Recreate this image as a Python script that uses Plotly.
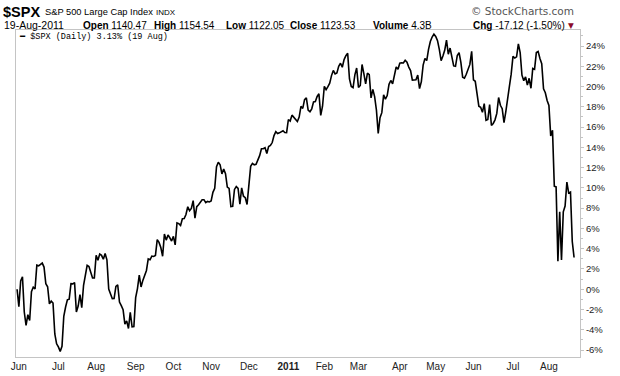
import pandas as pd
import plotly.graph_objects as go

# ---- data ----
base_close = 1089.41  # 28-May-2010 close (0% reference)
holidays = ["2010-05-31", "2010-07-05", "2010-09-06", "2010-11-25", "2010-12-24", "2011-01-17",
            "2011-02-21", "2011-04-22", "2011-05-30", "2011-07-04"]
closes = [
    1089.41,
    # Jun 2010
    1070.71, 1098.38, 1102.83, 1064.88, 1050.47, 1062.00, 1055.69, 1086.84, 1091.60, 1089.63,
    1115.23, 1114.61, 1116.04, 1117.51, 1113.20, 1095.31, 1092.04, 1073.69, 1076.76, 1074.57,
    1041.24, 1030.71,
    # Jul 2010
    1027.37, 1022.58, 1028.06, 1060.27, 1070.25, 1077.96, 1078.75, 1095.34, 1095.17, 1096.48,
    1064.88, 1071.25, 1083.48, 1069.59, 1093.67, 1102.66, 1115.01, 1113.84, 1106.13, 1101.53,
    1101.60,
    # Aug 2010
    1125.86, 1120.46, 1127.24, 1125.81, 1121.64, 1127.79, 1121.06, 1089.47, 1083.61, 1079.25,
    1079.38, 1092.54, 1094.16, 1075.63, 1071.69, 1067.36, 1051.87, 1055.33, 1047.22, 1064.59,
    1048.92, 1049.33,
    # Sep 2010
    1080.29, 1090.10, 1104.51, 1091.84, 1098.87, 1104.18, 1109.55, 1121.90, 1121.10, 1125.07,
    1124.66, 1125.59, 1142.71, 1139.78, 1134.28, 1124.83, 1148.67, 1142.16, 1147.70, 1144.73,
    1141.20,
    # Oct 2010
    1146.24, 1137.03, 1160.75, 1159.97, 1158.06, 1165.15, 1165.32, 1169.77, 1178.10, 1173.81,
    1176.19, 1184.71, 1165.90, 1178.17, 1180.26, 1183.08, 1185.62, 1185.64, 1182.45, 1183.78,
    1183.26,
    # Nov 2010
    1184.38, 1193.57, 1197.96, 1221.06, 1225.85, 1223.25, 1213.40, 1218.71, 1213.54, 1199.21,
    1197.75, 1178.34, 1178.59, 1196.69, 1199.73, 1197.84, 1180.73, 1198.35, 1189.40, 1187.76,
    1180.55,
    # Dec 2010
    1206.07, 1221.53, 1224.71, 1223.12, 1223.75, 1228.28, 1233.00, 1240.40, 1240.46, 1241.59,
    1235.23, 1242.87, 1243.91, 1247.08, 1254.60, 1258.84, 1256.77, 1257.54, 1258.51, 1259.78,
    1257.88, 1257.64,
    # Jan 2011
    1271.87, 1270.20, 1276.56, 1273.85, 1271.50, 1269.75, 1274.48, 1285.96, 1283.76, 1293.24,
    1295.02, 1281.92, 1280.26, 1283.35, 1290.84, 1291.18, 1296.63, 1299.54, 1276.34, 1286.12,
    # Feb 2011
    1307.59, 1304.03, 1307.10, 1310.87, 1319.05, 1324.57, 1320.88, 1321.87, 1329.15, 1332.32,
    1328.01, 1336.32, 1340.43, 1343.01, 1315.44, 1307.40, 1306.10, 1319.88, 1327.22,
    # Mar 2011
    1306.33, 1308.44, 1330.97, 1321.15, 1310.13, 1321.82, 1320.02, 1295.11, 1304.28, 1296.39,
    1281.87, 1256.88, 1273.72, 1279.21, 1298.38, 1293.77, 1297.54, 1309.66, 1313.80, 1310.19,
    1319.44, 1328.26, 1325.83,
    # Apr 2011
    1332.41, 1332.87, 1332.63, 1335.54, 1333.51, 1328.17, 1324.46, 1314.16, 1314.41, 1314.52,
    1319.68, 1305.14, 1312.62, 1330.36, 1337.38, 1335.25, 1347.24, 1355.66, 1360.48, 1363.61,
    # May 2011
    1361.22, 1356.62, 1347.32, 1335.10, 1340.20, 1346.29, 1357.16, 1342.08, 1348.65, 1337.77,
    1329.47, 1328.98, 1340.68, 1343.60, 1333.27, 1317.37, 1316.28, 1320.47, 1325.69, 1331.10,
    1345.20,
    # Jun 2011
    1314.55, 1312.94, 1300.16, 1286.17, 1284.94, 1279.56, 1289.00, 1270.98, 1271.83, 1287.87,
    1265.42, 1267.64, 1271.50, 1278.36, 1295.52, 1287.14, 1283.50, 1268.45, 1280.10, 1296.67,
    1307.41, 1320.64,
    # Jul 2011
    1339.67, 1337.88, 1339.22, 1353.22, 1343.80, 1319.49, 1313.64, 1317.72, 1308.87, 1316.14,
    1305.44, 1326.73, 1325.84, 1343.80, 1345.02, 1337.43, 1331.94, 1304.89, 1300.67, 1292.28,
    # Aug 2011
    1286.94, 1254.05, 1260.34, 1200.07, 1199.38, 1119.46, 1172.53, 1120.76, 1172.64, 1178.81,
    1204.49, 1192.76, 1193.89, 1140.65, 1123.53,
]
month_labels = ["Jun", "Jul", "Aug", "Sep", "Oct", "Nov", "Dec", "<b>2011</b>",
                "Feb", "Mar", "Apr", "May", "Jun", "Jul", "Aug"]
y_ticks = list(range(-6, 25, 2))
quote_items = [("Open", "1140.47"), ("High", "1154.54"), ("Low", "1122.05"),
               ("Close", "1123.53"), ("Volume", "4.3B"), ("Chg", "-17.12 (-1.50%)")]

# ---- derived ----
dates = [d for d in pd.bdate_range("2010-05-28", "2011-08-19") if d.strftime("%Y-%m-%d") not in holidays]
n = min(len(dates), len(closes))
dates, closes = dates[:n], closes[:n]
pct = [(c / base_close - 1) * 100 for c in closes]
idx = list(range(len(closes)))

tick_idx = []
seen = set()
for i, d in enumerate(dates):
    key = (d.year, d.month)
    if i > 0 and key not in seen:
        tick_idx.append(i)
    seen.add(key)

# geometry (pixels)
W, H = 620, 376
L, R, T, B = 16, 40, 30, 19
pw, ph = W - L - R, H - T - B
def px(x):
    return (x - L) / pw
def py(y):
    return (H - B - y) / ph

fig = go.Figure()
fig.add_trace(go.Scatter(x=idx, y=pct, mode="lines",
                         line=dict(color="#000000", width=1.6), hoverinfo="skip",
                         showlegend=False))

font_main = "Liberation Sans, Arial, sans-serif"
ann = []
ann.append(dict(x=px(1), y=py(12), text="<b>$SPX</b>", font=dict(size=14.5, family=font_main, color="#000")))
ann.append(dict(x=px(43), y=py(12), text="S&P 500 Large Cap Index", font=dict(size=9.3, family=font_main, color="#000")))
ann.append(dict(x=px(154), y=py(12.5), text="INDX", font=dict(size=8, family=font_main, color="#000")))
ann.append(dict(x=px(2), y=py(25), text="19-Aug-2011", font=dict(size=10.5, family=font_main, color="#000")))
quote_x = [81, 152, 224, 288, 371, 471]
for (lab, val), qx in zip(quote_items, quote_x):
    ann.append(dict(x=px(qx), y=py(25), text=f"<b>{lab}</b> {val}",
                    font=dict(size=10, family=font_main, color="#000")))
ann.append(dict(x=px(566), y=py(25), text="▼", font=dict(size=7.5, family="DejaVu Sans", color="#8b0a2a")))
ann.append(dict(x=px(576), y=py(11), text="© StockCharts.com", xanchor="right",
                font=dict(size=10.5, family="DejaVu Sans, sans-serif", color="#555")))
ann.append(dict(x=px(17), y=py(37), text="<b>━</b> $SPX (Daily) 3.13% (19 Aug)",
                font=dict(size=8.5, family="Liberation Mono, DejaVu Sans Mono, monospace", color="#000")))
for a in ann:
    a.setdefault("xanchor", "left")
    a.update(xref="paper", yref="paper", yanchor="middle", showarrow=False)

fig.update_layout(
    width=W, height=H,
    margin=dict(l=L, r=R, t=T, b=B),
    paper_bgcolor="white", plot_bgcolor="white",
    annotations=ann,
    xaxis=dict(range=[-0.6, 313.3], tickmode="array", tickvals=tick_idx, ticktext=month_labels,
               showgrid=False, zeroline=False, showline=True, mirror=True, linecolor="#c4c4c4",
               linewidth=1, ticks="", automargin=False,
               tickfont=dict(size=10, family=font_main, color="#222")),
    yaxis=dict(range=[-6.69, 25.58], side="right", tickmode="array", tickvals=y_ticks,
               ticktext=[f"{v}%" for v in y_ticks], showgrid=False, zeroline=False,
               showline=True, mirror=True, linecolor="#c4c4c4", linewidth=1, automargin=False,
               ticks="outside", ticklen=3, tickcolor="#c4c4c4",
               minor=dict(dtick=1, ticks="outside", ticklen=2, tickcolor="#c4c4c4"),
               tickfont=dict(size=9.5, family=font_main, color="#222")),
)

fig.write_html("out.html", config={"displayModeBar": False},
               post_script="document.body.style.margin='0';")
